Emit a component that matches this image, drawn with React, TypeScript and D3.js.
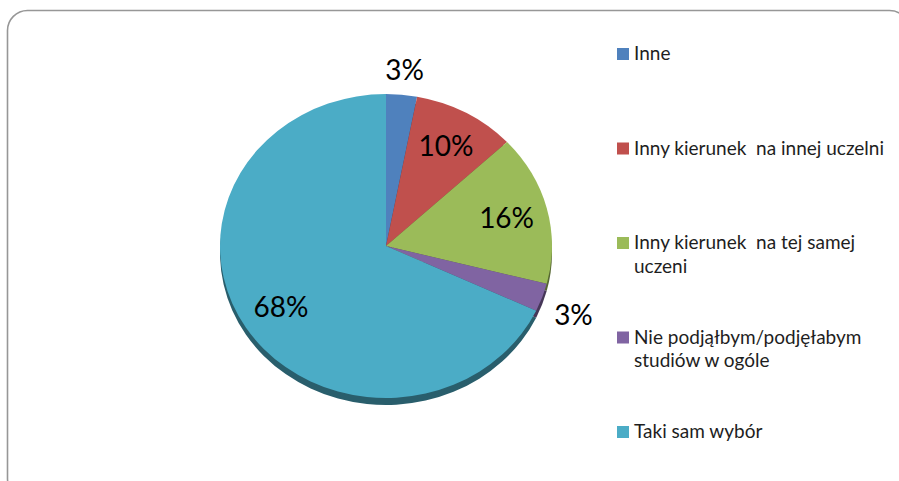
import React, { useEffect, useRef } from 'react';
import * as d3 from 'd3';

// pie data, clockwise from 12 o'clock
const categories = [
  'Inne',
  'Inny kierunek  na innej uczelni',
  'Inny kierunek  na tej samej uczeni',
  'Nie podjąłbym/podjęłabym studiów w ogóle',
  'Taki sam wybór',
];
const values = [3, 10, 16, 3, 68];
const legendLines = [
  ['Inne'],
  ['Inny kierunek  na innej uczelni'],
  ['Inny kierunek  na tej samej', 'uczeni'],
  ['Nie podjąłbym/podjęłabym', 'studiów w ogóle'],
  ['Taki sam wybór'],
];
const colors = ['#4F81BD', '#C0504D', '#9BBB59', '#8064A2', '#4BACC6'];

const W = 899;
const H = 481;
const FONT = 'Lato, "Open Sans", sans-serif';

const App: React.FC = () => {
  const svgRef = useRef<SVGSVGElement>(null);

  useEffect(() => {
    document.body.style.margin = '0';
    if (!svgRef.current) return;
    const svg = d3.select(svgRef.current);
    svg.selectAll('*').remove();

    // chart frame
    svg.append('rect')
      .attr('x', 7.5).attr('y', 10.5)
      .attr('width', 902).attr('height', 488)
      .attr('rx', 20).attr('ry', 20)
      .attr('fill', '#fff')
      .attr('stroke', '#979797')
      .attr('stroke-width', 1.6);

    const cx = 386, cy = 246;
    const rx = 166, ry = 152;
    const depth = 7;
    const k = ry / rx;

    const pie = d3.pie<number>().sort(null).value(d => d);
    const arcs = pie(values);
    const arc = d3.arc<d3.PieArcDatum<number>>().innerRadius(0).outerRadius(rx);

    // side (thin 3D rim)
    const side = svg.append('g')
      .attr('transform', `translate(${cx},${cy + depth}) scale(1,${k})`);
    side.selectAll('path')
      .data(arcs)
      .enter()
      .append('path')
      .attr('d', arc)
      .attr('fill', (d, i) => d3.color(colors[i])!.darker(1.7).toString());

    const top = svg.append('g')
      .attr('transform', `translate(${cx},${cy}) scale(1,${k})`);
    top.selectAll('path')
      .data(arcs)
      .enter()
      .append('path')
      .attr('d', arc)
      .attr('fill', (d, i) => colors[i]);

    // percentage labels
    const fmt = d3.format('.0%');
    const total = d3.sum(values);
    const labelArc = d3.arc<d3.PieArcDatum<number>>()
      .innerRadius(rx * 1.5).outerRadius(0);
    const hw = 20, hh = 13;
    arcs.forEach((a, i) => {
      let x: number, y: number;
      const mid = (a.startAngle + a.endAngle) / 2;
      if (values[i] / total < 0.05) {
        // outside, just off the rim
        const dx = Math.sin(mid), dy = -Math.cos(mid);
        const px = cx + dx * (rx + 12);
        const py = cy + dy * (ry + 12);
        x = px + (Math.abs(dx) > 0.3 ? Math.sign(dx) * hw : dx * hw);
        y = py + (Math.abs(dy) > 0.3 ? Math.sign(dy) * hh : dy * hh);
      } else {
        const [lx, ly] = labelArc.centroid(a);
        x = cx + lx;
        y = cy + ly * k;
      }
      svg.append('text')
        .attr('x', x)
        .attr('y', y)
        .attr('dy', '0.36em')
        .attr('text-anchor', 'middle')
        .style('font-family', FONT)
        .style('font-size', '28px')
        .attr('fill', '#000')
        .text(fmt(values[i] / total));
    });

    // legend
    const rowY = d3.scaleLinear().domain([0, categories.length - 1]).range([60, 438]);
    const legend = svg.append('g');
    categories.forEach((c, i) => {
      const g = legend.append('g').attr('transform', `translate(617,${rowY(i)})`);
      g.append('rect')
        .attr('x', 0).attr('y', -12)
        .attr('width', 12).attr('height', 12)
        .attr('fill', colors[i]);
      legendLines[i].forEach((line, j) => {
        g.append('text')
          .attr('x', 17)
          .attr('y', j * 23.5)
          .style('font-family', FONT)
          .style('font-size', '19px')
          .style('white-space', 'pre')
          .attr('fill', '#1e1e1e')
          .text(line);
      });
    });
  }, []);

  return <svg ref={svgRef} width={W} height={H} style={{ display: 'block' }} />;
};

export default App;
